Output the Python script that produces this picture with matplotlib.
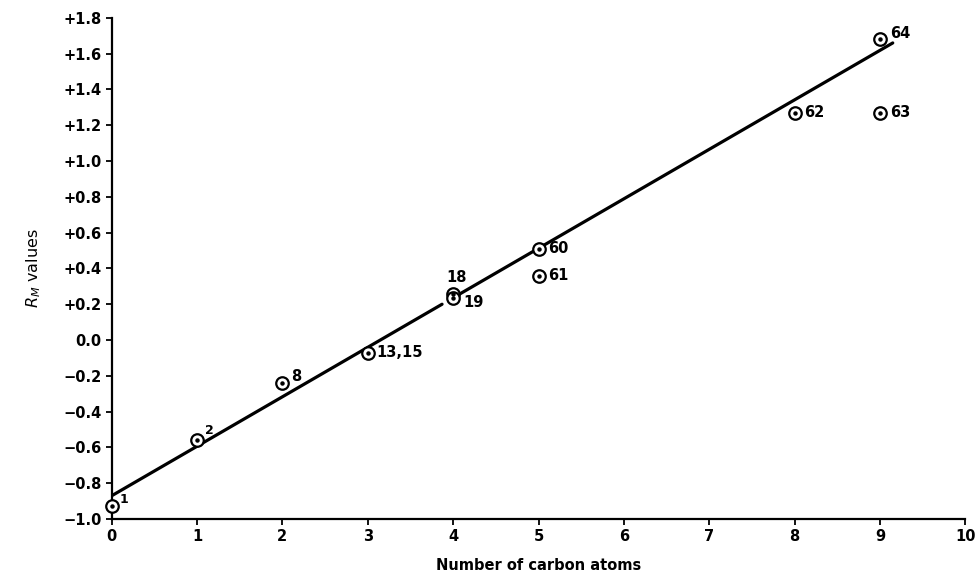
import numpy as np
import matplotlib.pyplot as plt

# R_M values against number of carbon atoms
carbons = [0, 1, 2, 3, 4, 4, 5, 5, 8, 9, 9]
rm_values = [-0.93, -0.56, -0.24, -0.07, 0.255, 0.235, 0.51, 0.36, 1.27, 1.27, 1.68]
labels = ['1', '2', '8', '13,15', '18', '19', '60', '61', '62', '63', '64']
label_offsets = [(6, 5), (6, 7), (6, 5), (6, 0), (-5, 12), (7, -3),
                 (7, 0), (7, 0), (7, 0), (7, 0), (7, 4)]

# fitted line, drawn in two pieces as in the original
intercept = -0.87
slope = 0.2765
line_pieces = [(0.0, 3.87), (4.05, 9.15)]

y_ticks = [-1.0, -0.8, -0.6, -0.4, -0.2, 0.0, 0.2, 0.4, 0.6, 0.8, 1.0, 1.2, 1.4, 1.6, 1.8]
y_tick_labels = ['\u22121.0', '\u22120.8', '\u22120.6', '\u22120.4', '\u22120.2', '0.0',
                 '+0.2', '+0.4', '+0.6', '+0.8', '+1.0', '+1.2', '+1.4', '+1.6', '+1.8']
x_ticks = list(range(0, 11))

fig = plt.figure(figsize=(9.8, 5.77), dpi=100)
ax = fig.add_axes([0.114, 0.1005, 0.871, 0.8685])

for x0, x1 in line_pieces:
    xs = np.array([x0, x1])
    ax.plot(xs, intercept + slope * xs, color='black', lw=2.3, solid_capstyle='round', zorder=2)

ax.plot(carbons, rm_values, 'o', ms=9, mfc='white', mec='black', mew=1.6, clip_on=False, zorder=3)
ax.plot(carbons, rm_values, 'o', ms=2.2, color='black', clip_on=False, zorder=4)

for x, y, lab, off in zip(carbons, rm_values, labels, label_offsets):
    size = 9 if lab in ('1', '2') else 10.5
    ax.annotate(lab, (x, y), xytext=off, textcoords='offset points',
                fontsize=size, fontweight='bold', va='center', ha='left')

ax.set_xlim(0, 10)
ax.set_ylim(-1.0, 1.8)
ax.set_xticks(x_ticks)
ax.set_yticks(y_ticks)
ax.set_yticklabels(y_tick_labels)
ax.tick_params(direction='out', length=4, width=1.3, labelsize=10.5)
for t in ax.get_xticklabels() + ax.get_yticklabels():
    t.set_fontweight('bold')

for side in ('top', 'right'):
    ax.spines[side].set_visible(False)
for side in ('left', 'bottom'):
    ax.spines[side].set_linewidth(1.6)

ax.set_xlabel('Number of carbon atoms', fontsize=10.5, fontweight='bold', labelpad=10)
ax.set_ylabel('$R_M$ values', fontsize=11.5, labelpad=14)

fig.savefig('out.png', dpi=100)
